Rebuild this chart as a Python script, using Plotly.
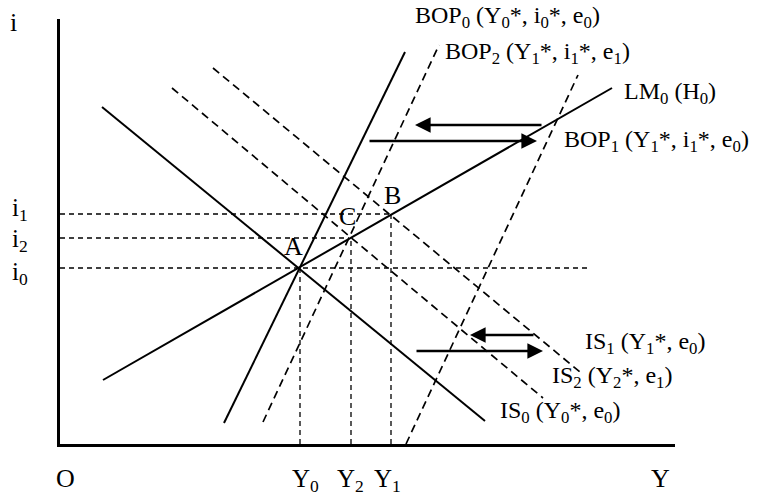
import plotly.graph_objects as go

# ---- data (axis units: income Y horizontally, interest rate i vertically) ----
y_names = ["Y<sub>0</sub>", "Y<sub>2</sub>", "Y<sub>1</sub>"]
y_values = [240, 291, 331]
i_names = ["i<sub>1</sub>", "i<sub>2</sub>", "i<sub>0</sub>"]
i_values = [230, 206, 176]
i_guide_end = [331, 289, 527]

LM0_x = [43, 552];   LM0_y = [64, 356]
IS0_x = [42, 425];   IS0_y = [337, 23]
IS1_x = [153, 520];  IS1_y = [376, 72]
IS2_x = [112, 483];  IS2_y = [356, 46]
BOP0_x = [164, 345]; BOP0_y = [21, 392]
BOP2_x = [203, 379]; BOP2_y = [22, 399]
BOP1_x = [346, 518]; BOP1_y = [0, 369]

point_names = ["A", "C", "B"]
point_x = [233, 287, 332]
point_y = [198, 228, 249]

arrow_from_x = [483, 308, 475, 355]
arrow_to_x = [355, 477, 410, 483]
arrow_y = [319, 303, 109, 93]

curve_labels = [
    "BOP<sub>0</sub> (Y<sub>0</sub>*, i<sub>0</sub>*, e<sub>0</sub>)",
    "BOP<sub>2</sub> (Y<sub>1</sub>*, i<sub>1</sub>*, e<sub>1</sub>)",
    "LM<sub>0</sub> (H<sub>0</sub>)",
    "BOP<sub>1</sub> (Y<sub>1</sub>*, i<sub>1</sub>*, e<sub>0</sub>)",
    "IS<sub>1</sub> (Y<sub>1</sub>*, e<sub>0</sub>)",
    "IS<sub>2</sub> (Y<sub>2</sub>*, e<sub>1</sub>)",
    "IS<sub>0</sub> (Y<sub>0</sub>*, e<sub>0</sub>)",
]
curve_label_x = [353, 383, 562, 502, 523, 490, 438]
curve_label_y = [427, 391, 351, 303, 101, 67, 32]

X_MAX, Y_MAX = 615, 425
FONT = "Liberation Serif, Times New Roman, serif"
fig = go.Figure()

solid = dict(color="black", width=2)
dashed = dict(color="black", width=1.7, dash="8px,5px")
guide = dict(color="black", width=1.3, dash="5px,4px")

for xs, ys, ln in [(LM0_x, LM0_y, solid), (IS0_x, IS0_y, solid), (BOP0_x, BOP0_y, solid),
                   (IS1_x, IS1_y, dashed), (IS2_x, IS2_y, dashed),
                   (BOP2_x, BOP2_y, dashed), (BOP1_x, BOP1_y, dashed)]:
    fig.add_trace(go.Scatter(x=xs, y=ys, mode="lines", line=ln, hoverinfo="skip"))

for iv, end in zip(i_values, i_guide_end):
    fig.add_trace(go.Scatter(x=[0, end], y=[iv, iv], mode="lines", line=guide, hoverinfo="skip"))
for yv, iv in zip(y_values, [i_values[2], i_values[1], i_values[0]]):
    fig.add_trace(go.Scatter(x=[yv, yv], y=[0, iv], mode="lines", line=guide, hoverinfo="skip"))

def f(size):
    return dict(family=FONT, size=size, color="black")

ann = []
for x0, x1, yy in zip(arrow_from_x, arrow_to_x, arrow_y):
    ann.append(dict(x=x1, y=yy, ax=x0, ay=yy, xref="x", yref="y", axref="x", ayref="y",
                    showarrow=True, arrowhead=2, arrowsize=1.3, arrowwidth=2.4,
                    arrowcolor="black", text=""))
for t, x, y in zip(curve_labels, curve_label_x, curve_label_y):
    ann.append(dict(x=x, y=y / Y_MAX, xref="x", yref="paper", text=t, showarrow=False,
                    xanchor="left", yanchor="middle", font=f(24)))
for t, x, y in zip(point_names, point_x, point_y):
    ann.append(dict(x=x, y=y, xref="x", yref="y", text=t, showarrow=False,
                    xanchor="center", yanchor="middle", font=f(26)))
for t, v, s in zip(y_names, y_values, [5, -1, -4]):
    ann.append(dict(x=v, y=-36 / Y_MAX, xref="x", yref="paper", text=t, showarrow=False,
                    xshift=s, xanchor="center", yanchor="middle", font=f(25)))
for t, v, s in zip(i_names, i_values, [5, -2, -5]):
    ann.append(dict(x=-40 / X_MAX, y=v, xref="paper", yref="y", text=t, showarrow=False,
                    yshift=s, xanchor="center", yanchor="middle", font=f(25)))
for t, x, y in [("i", -47, 421), ("O", 5, -34), ("Y", 600, -34)]:
    ann.append(dict(x=x / X_MAX, y=y / Y_MAX, xref="paper", yref="paper", text=t,
                    showarrow=False, xanchor="center", yanchor="middle", font=f(26)))

fig.update_layout(
    width=757, height=498,
    margin=dict(l=60, r=82, t=19, b=54),
    paper_bgcolor="white", plot_bgcolor="white",
    showlegend=False,
    annotations=ann,
    xaxis=dict(range=[0, X_MAX], showgrid=False, zeroline=False, showticklabels=False,
               showline=True, linecolor="black", linewidth=3, ticks=""),
    yaxis=dict(range=[0, Y_MAX], showgrid=False, zeroline=False, showticklabels=False,
               showline=True, linecolor="black", linewidth=3, ticks=""),
)
fig.write_html("out.html", config={"displayModeBar": False},
               post_script="document.body.style.margin='0';")
